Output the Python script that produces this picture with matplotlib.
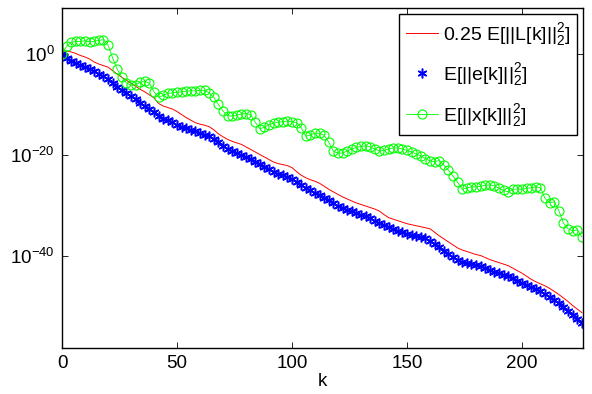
import matplotlib
matplotlib.use("Agg")
import matplotlib.pyplot as plt
import numpy as np

plt.rcParams["font.family"] = ["Liberation Sans", "DejaVu Sans"]
plt.rcParams["mathtext.default"] = "regular"
plt.rcParams["font.size"] = 13.5

# sample index k (every second step)
k = np.arange(0, 227, 2)

# log10 of 0.25 E[||L[k]||^2]
red_exp = [
    0.2, 0.6, 0.4, 0.1, -0.3, -0.6, -1.0, -1.6, -2.0, -2.3,
    -2.6, -3.3, -4.0, -4.6, -5.2, -5.8, -6.4, -7.0, -7.5, -8.1,
    -8.7, -9.8, -10.3, -10.6, -10.9, -11.4, -12.0, -12.6, -13.1, -13.6,
    -13.9, -14.1, -14.4, -15.0, -15.8, -16.4, -16.9, -17.3, -17.6, -17.9,
    -18.4, -18.9, -19.4, -19.9, -20.4, -20.9, -21.4, -21.7, -21.9, -22.1,
    -22.5, -23.3, -24.0, -24.5, -24.9, -25.2, -25.6, -26.2, -26.8, -27.3,
    -27.8, -28.3, -28.7, -29.1, -29.5, -29.8, -30.1, -30.4, -30.7, -31.1,
    -31.8, -32.4, -32.7, -33.0, -33.3, -33.6, -33.8, -34.0, -34.2, -34.4,
    -34.6, -35.3, -36.0, -36.6, -37.2, -37.8, -38.4, -38.8, -39.1, -39.4,
    -39.7, -39.9, -40.3, -40.7, -41.0, -41.3, -41.6, -41.9, -42.4, -42.9,
    -43.4, -44.0, -44.6, -45.1, -45.5, -45.9, -46.4, -47.0, -47.6, -48.3,
    -49.0, -49.8, -50.5, -51.2,
]

# log10 of E[||e[k]||^2]
blue_exp = [
    0.0, -0.8, -1.4, -1.8, -2.2, -2.5, -2.9, -3.4, -3.9, -4.4,
    -5.0, -5.8, -6.6, -7.2, -7.8, -8.3, -9.0, -9.7, -10.3, -10.9,
    -11.5, -12.3, -12.8, -13.1, -13.5, -14.0, -14.4, -14.7, -15.0, -15.3,
    -15.7, -16.0, -16.3, -16.8, -17.5, -18.2, -18.8, -19.2, -19.6, -19.9,
    -20.3, -20.8, -21.3, -21.8, -22.3, -22.8, -23.3, -23.7, -24.0, -24.3,
    -24.8, -25.4, -26.0, -26.5, -27.0, -27.5, -27.9, -28.5, -29.0, -29.5,
    -30.0, -30.5, -30.8, -31.1, -31.5, -31.8, -32.1, -32.5, -33.0, -33.5,
    -33.9, -34.3, -34.7, -35.0, -35.3, -35.6, -35.8, -36.0, -36.2, -36.5,
    -37.0, -37.6, -38.3, -39.0, -39.6, -40.2, -40.8, -41.2, -41.4, -41.6,
    -41.8, -42.0, -42.4, -42.8, -43.1, -43.4, -43.7, -44.0, -44.4, -44.9,
    -45.4, -45.8, -46.2, -46.6, -47.0, -47.5, -48.1, -48.7, -49.3, -50.0,
    -50.8, -51.6, -52.4, -53.2,
]

# log10 of E[||x[k]||^2]
green_exp = [
    0.0, 1.5, 2.3, 2.5, 2.5, 2.6, 2.4, 2.5, 2.7, 2.8,
    1.8, -0.8, -3.0, -4.6, -5.7, -6.2, -6.1, -5.6, -5.4, -5.8,
    -7.5, -8.6, -8.2, -7.8, -7.7, -7.6, -7.5, -7.4, -7.3, -7.3,
    -7.2, -7.2, -7.7, -8.6, -10.0, -11.3, -12.2, -12.3, -12.1, -11.9,
    -11.8, -12.0, -13.5, -14.8, -14.5, -14.0, -13.7, -13.5, -13.4, -13.3,
    -13.4, -13.6, -14.6, -16.3, -16.0, -15.7, -15.7, -16.1, -17.5, -19.3,
    -19.6, -19.6, -19.2, -18.8, -18.5, -18.3, -18.2, -18.4, -18.8, -19.2,
    -19.1, -18.8, -18.6, -18.6, -18.8, -19.1, -19.4, -19.8, -20.2, -20.7,
    -21.2, -21.3, -21.1, -22.0, -23.0, -24.2, -25.4, -26.8, -26.5, -26.3,
    -26.3, -26.2, -26.0, -25.9, -26.1, -26.6, -27.0, -27.3, -26.8, -26.7,
    -26.8, -26.6, -26.5, -26.3, -26.5, -28.6, -29.4, -29.3, -31.0, -33.5,
    -34.6, -35.0, -34.8, -36.2,
]

labels = [
    r"0.25 E[||L[k]||$_2^2$]",
    r"E[||e[k]||$_2^2$]",
    r"E[||x[k]||$_2^2$]",
]

fig = plt.figure(figsize=(5.92, 3.94), dpi=100)
ax = fig.add_axes([62 / 592, 46 / 394, 521 / 592, 340 / 394])

ax.semilogy(k, np.power(10.0, red_exp), color="#ff0000", linewidth=0.7,
            label=labels[0])
ax.semilogy(k, np.power(10.0, blue_exp), linestyle="none", marker=(6, 2, 0),
            markersize=7, markeredgewidth=1.1, color="#0000ff", label=labels[1])
ax.semilogy(k, np.power(10.0, green_exp), color="#00ff00", linewidth=0.6,
            marker="o", markersize=6.5, markerfacecolor="none",
            markeredgewidth=0.8, label=labels[2])

ax.set_xlim(0, 226.5)
ax.set_ylim(10.0 ** -58.2, 10.0 ** 9.1)
ax.set_xticks([0, 50, 100, 150, 200])
ax.set_yticks([1e-40, 1e-20, 1e0])
ax.set_yticklabels([r"$10^{-40}$", r"$10^{-20}$", r"$10^{0}$"])
ax.yaxis.set_minor_locator(matplotlib.ticker.NullLocator())
ax.tick_params(direction="in", length=4, width=0.6, top=True, right=True,
               labelsize=13.5, pad=5)
for spine in ax.spines.values():
    spine.set_linewidth(1.0)
ax.set_xlabel("k", fontsize=13.5, labelpad=1)

leg = ax.legend(loc="upper right", fontsize=14, fancybox=False,
                edgecolor="black", framealpha=1, handlelength=1.65,
                borderaxespad=0.3, labelspacing=0.7, borderpad=0.35,
                handletextpad=0.25)
leg.get_frame().set_linewidth(1.0)

fig.savefig("out.png", dpi=100)
